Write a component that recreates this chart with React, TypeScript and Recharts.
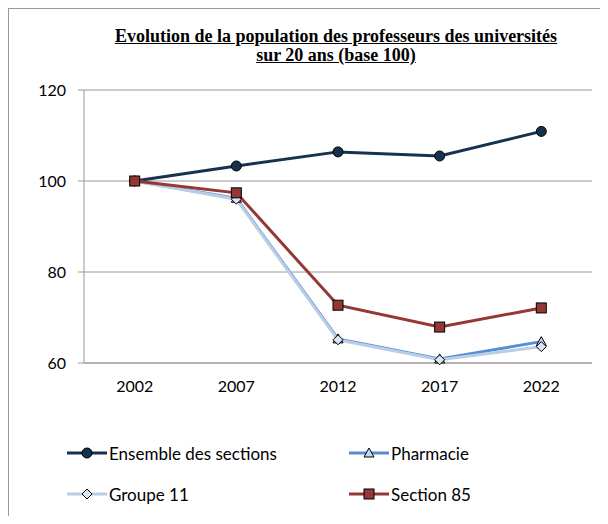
import React from 'react';
import { CartesianGrid, Line, LineChart, XAxis, YAxis } from 'recharts';

const years = ['2002', '2007', '2012', '2017', '2022'];
const ensemble = [100, 103.3, 106.4, 105.5, 110.9];
const pharmacie = [100, 96.2, 65.3, 60.9, 64.7];
const groupe11 = [100, 96.0, 65.1, 60.7, 63.6];
const section85 = [100, 97.4, 72.7, 67.9, 72.1];
const yTicks = [60, 80, 100, 120];

const data = years.map((year, i) => ({
  year,
  ensemble: ensemble[i],
  pharmacie: pharmacie[i],
  groupe11: groupe11[i],
  section85: section85[i],
}));

const FONT = 'Lato, "Open Sans", sans-serif';

type Shape = 'circle' | 'triangle' | 'diamond' | 'square';

function Marker({ shape, cx, cy, fill }: { shape: Shape; cx: number; cy: number; fill: string }) {
  if (shape === 'circle') return <circle cx={cx} cy={cy} r={5} fill={fill} stroke="#000" strokeWidth={1} />;
  if (shape === 'square')
    return <rect x={cx - 5} y={cy - 5} width={10} height={10} fill={fill} stroke="#000" strokeWidth={1} />;
  if (shape === 'triangle')
    return (
      <polygon
        points={`${cx},${cy - 5} ${cx + 5},${cy + 4} ${cx - 5},${cy + 4}`}
        fill={fill}
        stroke="#000"
        strokeWidth={1}
      />
    );
  return (
    <polygon
      points={`${cx},${cy - 5} ${cx + 5},${cy} ${cx},${cy + 5} ${cx - 5},${cy}`}
      fill={fill}
      stroke="#000"
      strokeWidth={1}
    />
  );
}

const series = [
  { key: 'ensemble', name: 'Ensemble des sections', color: '#17324f', markerFill: '#17324f', shape: 'circle' as Shape },
  { key: 'pharmacie', name: 'Pharmacie', color: '#558ed5', markerFill: '#c6d9f1', shape: 'triangle' as Shape },
  { key: 'groupe11', name: 'Groupe 11', color: '#b9cde5', markerFill: '#dbe6f4', shape: 'diamond' as Shape },
  { key: 'section85', name: 'Section 85', color: '#953735', markerFill: '#953735', shape: 'square' as Shape },
];

function LegendItem({ s, left, top }: { s: (typeof series)[number]; left: number; top: number }) {
  return (
    <div style={{ position: 'absolute', left, top, display: 'flex', alignItems: 'center', height: 20 }}>
      <svg width={42} height={20}>
        <line x1={0} y1={10} x2={40} y2={10} stroke={s.color} strokeWidth={3} />
        <Marker shape={s.shape} cx={20} cy={10} fill={s.markerFill} />
      </svg>
      <span style={{ fontFamily: FONT, fontSize: 17, color: '#000', whiteSpace: 'nowrap' }}>{s.name}</span>
    </div>
  );
}

// y labels sit well left of the tick marks
function YTick({ x, y, payload }: any) {
  return (
    <text x={x - 10} y={y} dy="0.35em" textAnchor="end" fill="#000" fontSize={16} fontFamily={FONT}>
      {payload.value}
    </text>
  );
}

export default function App() {
  return (
    <div
      style={{
        position: 'relative',
        width: 594,
        height: 515,
        marginBottom: -8,
        borderTop: '1px solid #999',
        borderLeft: '1px solid #999',
        background: '#fff',
        overflow: 'hidden',
      }}
    >
      <div
        style={{
          position: 'absolute',
          left: 0,
          top: 18,
          width: 654,
          textAlign: 'center',
          fontFamily: '"Liberation Serif", "Times New Roman", serif',
          fontWeight: 'bold',
          fontSize: 18,
          lineHeight: '19px',
          textDecoration: 'underline',
          color: '#000',
        }}
      >
        Evolution de la population des professeurs des universités
        <br />
        sur 20 ans (base 100)
      </div>
      <LineChart
        width={594}
        height={515}
        data={data}
        margin={{ top: 81, right: 11, bottom: 131, left: 35 }}
        style={{ position: 'absolute', left: 0, top: 0 }}
      >
        <CartesianGrid stroke="#999" vertical={false} />
        <XAxis
          dataKey="year"
          padding={{ left: 50.7, right: 50.7 }}
          tickLine={false}
          tickSize={0}
          tickMargin={18}
          axisLine={{ stroke: '#999' }}
          tick={{ fill: '#000', fontSize: 16, fontFamily: FONT }}
          height={30}
        />
        <XAxis
          xAxisId="bounds"
          type="number"
          domain={[0, 5]}
          ticks={[0, 1, 2, 3, 4, 5]}
          axisLine={false}
          tickLine={{ stroke: '#999' }}
          tickSize={5}
          tickFormatter={() => ''}
          height={0}
        />
        <YAxis
          domain={[60, 120]}
          ticks={yTicks}
          width={40}
          tickSize={6}
          axisLine={{ stroke: '#999' }}
          tickLine={{ stroke: '#999' }}
          tick={<YTick />}
        />
        {series.map((s) => (
          <Line
            key={s.key}
            dataKey={s.key}
            name={s.name}
            stroke={s.color}
            strokeWidth={3}
            isAnimationActive={false}
            dot={(p: any) => <Marker key={`${s.key}-${p.index}`} shape={s.shape} cx={p.cx} cy={p.cy} fill={s.markerFill} />}
            activeDot={false}
          />
        ))}
      </LineChart>
      <LegendItem s={series[0]} left={58} top={434} />
      <LegendItem s={series[1]} left={340} top={434} />
      <LegendItem s={series[2]} left={58} top={475} />
      <LegendItem s={series[3]} left={340} top={475} />
    </div>
  );
}
